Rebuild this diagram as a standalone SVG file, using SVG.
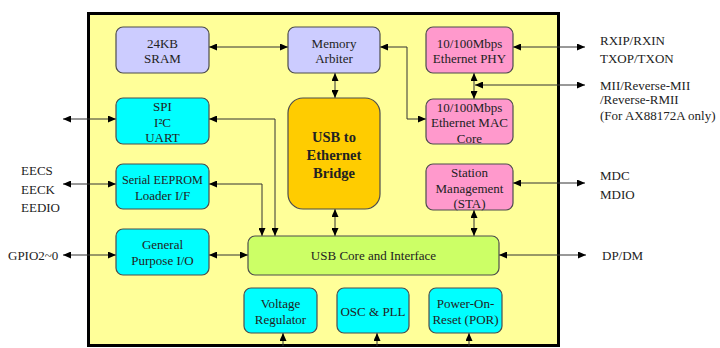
<svg xmlns="http://www.w3.org/2000/svg" width="720" height="348" viewBox="0 0 720 348">
<style>
text{font-family:"Liberation Serif","Times New Roman",serif;font-size:13px;fill:#222;text-anchor:middle}
.ext{text-anchor:start}
.n{stroke:#4d4d4d;stroke-width:1.2}
.c line,.c polyline{stroke:#333;stroke-width:1;fill:none;marker-start:url(#ah);marker-end:url(#ah)}
.c .one{marker-start:none}
</style>
<defs>
<marker id="ah" viewBox="0 0 8 7" refX="8" refY="3.5" markerWidth="8" markerHeight="7" markerUnits="userSpaceOnUse" orient="auto-start-reverse">
<path d="M0,0 L8,3.5 L0,7 z" fill="#000"/>
</marker>
</defs>
<rect width="720" height="348" fill="#fff"/>
<rect id="chip" x="88.5" y="13.5" width="470" height="332" fill="#FFFF99" stroke="#000" stroke-width="3"/>

<g class="c" id="connectors">
<line x1="209" y1="47" x2="288" y2="47"/>
<line x1="335" y1="73" x2="335" y2="98"/>
<polyline points="380,47 407,47 407,119 426,119"/>
<line x1="474" y1="73" x2="474" y2="99"/>
<line x1="475" y1="85" x2="585" y2="85"/>
<line x1="513" y1="47" x2="585" y2="47"/>
<line x1="63" y1="119" x2="116" y2="119"/>
<polyline points="209,119 275,119 275,236"/>
<line x1="63" y1="184" x2="116" y2="184"/>
<polyline points="209,184 262,184 262,236"/>
<line x1="63" y1="255" x2="116" y2="255"/>
<line x1="209" y1="255" x2="248" y2="255"/>
<line x1="335" y1="209" x2="335" y2="236"/>
<line x1="474" y1="210" x2="474" y2="236"/>
<line x1="513" y1="183" x2="585" y2="183"/>
<line x1="499" y1="255" x2="586" y2="255"/>
<line class="one" x1="283" y1="346" x2="283" y2="333"/>
<line class="one" x1="377" y1="346" x2="377" y2="333"/>
<line class="one" x1="469" y1="346" x2="469" y2="333"/>
</g>

<g id="sram"><rect class="n" x="116" y="27" width="93" height="46" rx="7" fill="#CCCCFF"/><text x="162.5" y="47.5">24KB</text><text x="162.5" y="62.5">SRAM</text></g>
<g id="arbiter"><rect class="n" x="288" y="27" width="92" height="46" rx="7" fill="#CCCCFF"/><text x="334" y="47.5">Memory</text><text x="334" y="62.5">Arbiter</text></g>
<g id="phy"><rect class="n" x="426" y="27" width="87" height="46" rx="7" fill="#FF99CC"/><text x="469.5" y="47.5">10/100Mbps</text><text x="469.5" y="62.5">Ethernet PHY</text></g>
<g id="spi"><rect class="n" x="116" y="98" width="93" height="46" rx="7" fill="#00FFFF"/><text x="162.5" y="110.5">SPI</text><text x="162.5" y="126.5">I²C</text><text x="162.5" y="141.5">UART</text></g>
<g id="eeprom"><rect class="n" x="116" y="164" width="93" height="45" rx="7" fill="#00FFFF"/><text x="162.5" y="183.5" style="font-size:12.2px">Serial EEPROM</text><text x="162.5" y="199.5">Loader I/F</text></g>
<g id="gpio"><rect class="n" x="116" y="229" width="93" height="46" rx="7" fill="#00FFFF"/><text x="162.5" y="248.5">General</text><text x="162.5" y="264.5">Purpose I/O</text></g>
<g id="bridge"><rect class="n" x="288" y="98" width="92" height="111" rx="15" fill="#FFCC00"/><text x="334" y="142" style="font-weight:bold;font-size:14.5px">USB to</text><text x="334" y="160" style="font-weight:bold;font-size:14.5px">Ethernet</text><text x="334" y="178" style="font-weight:bold;font-size:14.5px">Bridge</text></g>
<g id="mac"><rect class="n" x="426" y="99" width="87" height="45" rx="7" fill="#FF99CC"/><text x="469.5" y="111.5">10/100Mbps</text><text x="469.5" y="126.5">Ethernet MAC</text><text x="469.5" y="142.5">Core</text></g>
<g id="sta"><rect class="n" x="426" y="164" width="87" height="46" rx="7" fill="#FF99CC"/><text x="469.5" y="176.5">Station</text><text x="469.5" y="192.5">Management</text><text x="469.5" y="207.5">(STA)</text></g>
<g id="usbcore"><rect class="n" x="248" y="236" width="251" height="39" rx="7" fill="#CCFF66"/><text x="373.5" y="259.5">USB Core and Interface</text></g>
<g id="vreg"><rect class="n" x="244" y="288" width="73" height="45" rx="7" fill="#00FFFF"/><text x="280.5" y="307.5">Voltage</text><text x="280.5" y="323.5">Regulator</text></g>
<g id="osc"><rect class="n" x="337" y="288" width="72" height="45" rx="7" fill="#00FFFF"/><text x="373" y="315.5">OSC &amp; PLL</text></g>
<g id="por"><rect class="n" x="429" y="288" width="73" height="45" rx="7" fill="#00FFFF"/><text x="465.5" y="307.5">Power-On-</text><text x="465.5" y="323.5">Reset (POR)</text></g>

<g id="labels">
<text class="ext" x="600" y="44.5">RXIP/RXIN</text>
<text class="ext" x="600" y="62.5">TXOP/TXON</text>
<text class="ext" x="600" y="89.5">MII/Reverse-MII</text>
<text class="ext" x="600" y="104">/Reverse-RMII</text>
<text class="ext" x="600" y="119.5">(For AX88172A only)</text>
<text class="ext" x="600" y="179.5">MDC</text>
<text class="ext" x="600" y="198.5">MDIO</text>
<text class="ext" x="602" y="259.5">DP/DM</text>
<text class="ext" x="21" y="174.5">EECS</text>
<text class="ext" x="21" y="193.5">EECK</text>
<text class="ext" x="21" y="211.5">EEDIO</text>
<text class="ext" x="8" y="259.5">GPIO2~0</text>
</g>
</svg>
